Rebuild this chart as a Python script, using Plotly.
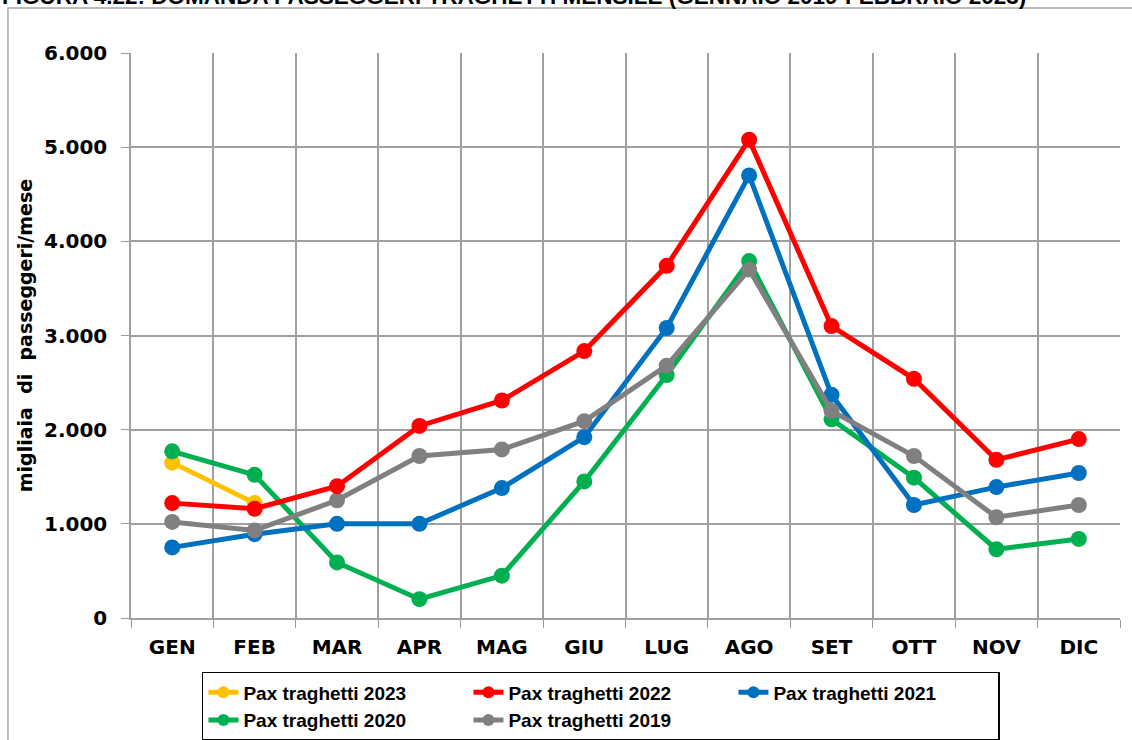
import plotly.graph_objects as go

mesi = ["GEN", "FEB", "MAR", "APR", "MAG", "GIU", "LUG", "AGO", "SET", "OTT", "NOV", "DIC"]

pax_2023 = [1650, 1220]
pax_2022 = [1220, 1160, 1400, 2040, 2310, 2835, 3740, 5080, 3100, 2540, 1680, 1900]
pax_2021 = [750, 890, 1000, 1000, 1380, 1920, 3080, 4700, 2370, 1200, 1390, 1540]
pax_2020 = [1770, 1520, 590, 200, 450, 1450, 2580, 3790, 2110, 1490, 730, 840]
pax_2019 = [1020, 930, 1250, 1720, 1790, 2090, 2680, 3700, 2200, 1720, 1070, 1200]

serie = [
    ("Pax traghetti 2023", pax_2023, "#FFC000"),
    ("Pax traghetti 2022", pax_2022, "#FF0000"),
    ("Pax traghetti 2021", pax_2021, "#0070C0"),
    ("Pax traghetti 2020", pax_2020, "#00B050"),
    ("Pax traghetti 2019", pax_2019, "#808080"),
]
# order in which lines are drawn (2023 at the bottom, 2022 on top)
ordine = [0, 3, 2, 4, 1]

fig = go.Figure()
for i in ordine:
    nome, valori, colore = serie[i]
    fig.add_trace(go.Scatter(
        x=mesi[:len(valori)], y=valori, name=nome, mode="lines+markers",
        line=dict(color=colore, width=5),
        marker=dict(color=colore, size=16),
        legendrank=i + 1,
    ))

wide = "DejaVu Sans"
cond = "Liberation Sans"
fig.update_layout(
    width=1132, height=740,
    margin=dict(l=131, r=12, t=53, b=122),
    plot_bgcolor="white", paper_bgcolor="white",
    separators=",.",
    showlegend=True,
    legend=dict(
        orientation="h", xref="container", yref="container",
        x=0.1784, y=0.0919, xanchor="left", yanchor="top",
        entrywidth=220, entrywidthmode="pixels", traceorder="normal",
        bordercolor="black", borderwidth=1.5, itemsizing="constant",
        font=dict(family=cond, size=19, color="black", weight="bold"),
        itemwidth=30, tracegroupgap=0,
    ),
    annotations=[dict(
        text="FIGURA 4.22: DOMANDA PASSEGGERI TRAGHETTI MENSILE (GENNAIO 2019-FEBBRAIO 2023)",
        xref="paper", yref="paper", x=-0.1325, y=1.0735, xanchor="left", yanchor="bottom",
        showarrow=False, font=dict(family=cond, size=22.5, color="black", weight="bold"),
    )],
    shapes=[dict(
        type="rect", xref="paper", yref="paper", x0=-0.1244, x1=1.02, y0=-0.3, y1=1.0797,
        line=dict(color="#A6A6A6", width=1.5), layer="below",
    )],
)

fig.update_xaxes(
    type="category", tickson="boundaries", ticks="outside", ticklen=8,
    tickcolor="#999999", showgrid=True, gridcolor="#A0A0A0", gridwidth=1.5,
    showline=True, linecolor="#A0A0A0", linewidth=1.5, ticklabelstandoff=10,
    tickfont=dict(family=wide, size=20, color="black", weight="bold"),
    range=[-0.5, 11.5],
)
fig.update_yaxes(
    range=[0, 6000], dtick=1000, tickformat=",d", ticks="outside", ticklen=8,
    tickcolor="#999999", showgrid=True, gridcolor="#A0A0A0", gridwidth=1.5,
    showline=True, linecolor="#A0A0A0", linewidth=1.5, zeroline=False,
    ticklabelstandoff=10,
    tickfont=dict(family=wide, size=20, color="black", weight="bold"),
    title=dict(text="migliaia  di  passeggeri/mese", standoff=6,
               font=dict(family=wide, size=19, color="black", weight="bold")),
)

# drop the default 8px body margin so the figure sits at the page corner
fig.write_html("out.html", config={"displayModeBar": False},
               post_script="document.body.style.margin='0px';")
